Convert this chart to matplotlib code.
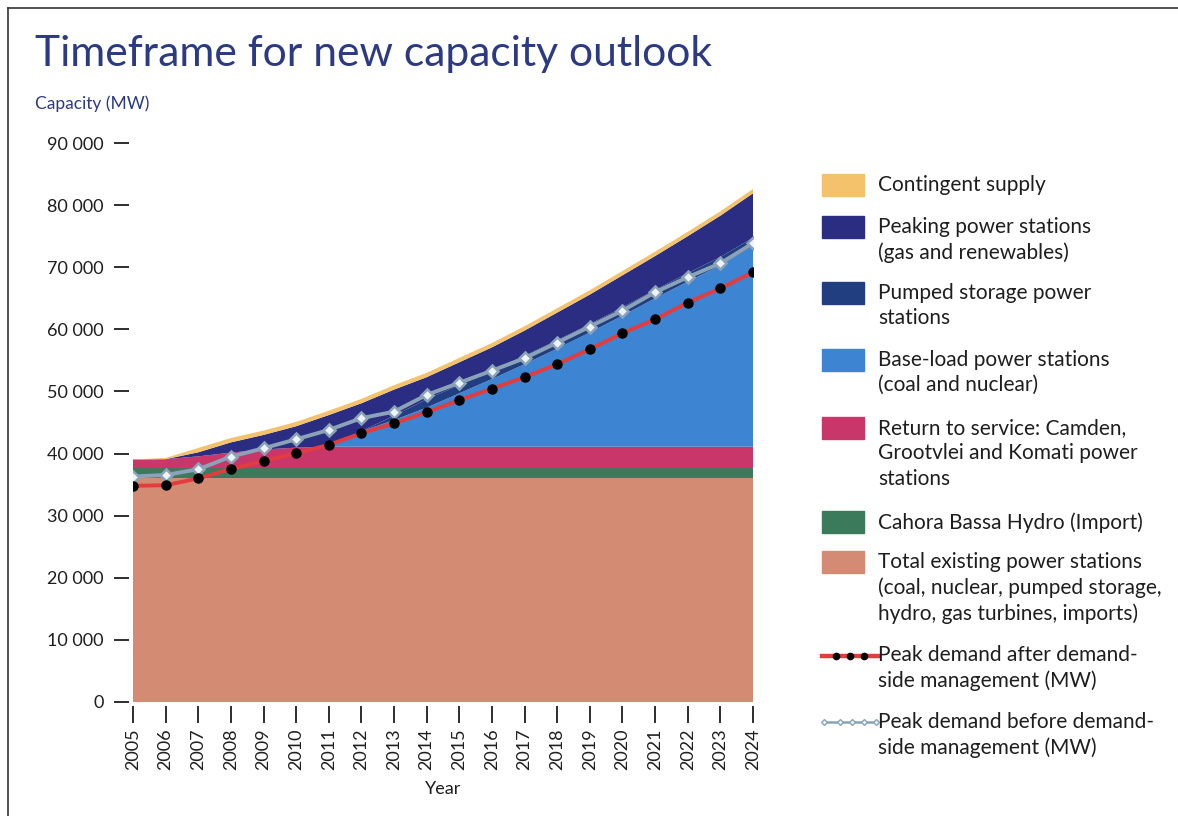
import numpy as np
import matplotlib
matplotlib.use("Agg")
import matplotlib.pyplot as plt
from matplotlib.patches import Rectangle
from matplotlib.lines import Line2D
from matplotlib.ticker import FuncFormatter

plt.rcParams["font.family"] = ["Lato", "DejaVu Sans"]

years = list(range(2005, 2025))

# stacked capacity layers (MW), bottom to top
existing = [36100] * 20
cahora = [1550] * 20
return_to_service = [1400, 1450, 1900, 2500, 3000, 3300, 3450, 3450, 3450, 3450,
                     3450, 3450, 3450, 3450, 3450, 3450, 3450, 3450, 3450, 3450]
base_load = [0, 0, 0, 0, 0, 0, 0, 2500, 4300, 6300,
             8600, 10900, 13300, 15800, 18400, 21100, 23900, 26600, 29200, 32300]
pumped = [0, 0, 0, 0, 0, 0, 0, 0, 700, 1350,
          1350, 1350, 1350, 1350, 1350, 1350, 1350, 1350, 1350, 1350]
peaking = [0, 0, 650, 1650, 2350, 3450, 5100, 4500, 4200, 3550,
           3650, 3750, 4050, 4450, 4750, 5150, 5450, 5950, 6650, 7150]
contingent = [0, 200, 700, 700, 700, 700, 700, 700, 700, 700,
              700, 700, 700, 700, 700, 700, 700, 700, 700, 700]

# peak demand lines (MW)
demand_after = [34800, 34900, 36000, 37500, 38800, 40050, 41400, 43270, 44880, 46650,
                48600, 50450, 52300, 54400, 56800, 59400, 61600, 64300, 66600, 69200]
demand_before = [36300, 36550, 37470, 39500, 40850, 42300, 43800, 45700, 46750, 49440,
                 51400, 53350, 55350, 57860, 60440, 63010, 65970, 68390, 70640, 73860]

layer_labels = [
    "Total existing power stations\n(coal, nuclear, pumped storage,\nhydro, gas turbines, imports)",
    "Cahora Bassa Hydro (Import)",
    "Return to service: Camden,\nGrootvlei and Komati power\nstations",
    "Base-load power stations\n(coal and nuclear)",
    "Pumped storage power\nstations",
    "Peaking power stations\n(gas and renewables)",
    "Contingent supply",
]
layer_colors = ["#d48b74", "#3b7b5c", "#c93669", "#3d84d2", "#213f80", "#2b2d82", "#f4c26a"]
RED = "#e23c3e"
GREY = "#8aa3b8"
NAVY = "#2b3a82"
INK = "#1e1e1e"
LEG_FS = 15

fig = plt.figure(figsize=(11.78, 8.16), dpi=100)
W, H = 1178, 816
ax = fig.add_axes([133 / W, 1 - 702 / H, 620 / W, (702 - 143) / H])

ax.stackplot(years, existing, cahora, return_to_service, base_load, pumped, peaking,
             contingent, colors=layer_colors, linewidth=0)
ax.plot(years, demand_before, color=GREY, lw=2.8, marker="D", ms=6.5,
        mfc="#eef3f7", mec=GREY, mew=1.8, zorder=4)
ax.plot(years, demand_after, color=RED, lw=2.8, marker="o", ms=6.5,
        mfc="black", mec="black", zorder=5)

ax.set_xlim(2005, 2024)
ax.set_ylim(0, 90000)
for s in ax.spines.values():
    s.set_visible(False)
ax.spines["left"].set_position(("outward", 3))
ax.spines["bottom"].set_position(("outward", 3))
ax.set_yticks(np.arange(0, 90001, 10000))
ax.yaxis.set_major_formatter(FuncFormatter(lambda v, p: f"{int(v):,}".replace(",", " ")))
ax.set_xticks(years)
ax.set_xticklabels([str(y) for y in years], rotation=90)
ax.tick_params(axis="y", length=11, width=1.3, color=INK, labelsize=13, pad=7, labelcolor=INK)
ax.tick_params(axis="x", length=12, width=1.3, color=INK, labelsize=13, pad=4, labelcolor=INK)
ax.set_xlabel("Year", fontsize=13, color=INK, labelpad=8)

fig.text(35 / W, 1 - 54 / H, "Timeframe for new capacity outlook", fontsize=30.7,
         color=NAVY, va="center", ha="left")
fig.text(35 / W, 1 - 104 / H, "Capacity (MW)", fontsize=12.5, color=NAVY,
         va="center", ha="left")

# border lines of the original page box
fig.add_artist(Line2D([8 / W, 8 / W], [0, 1 - 8 / H], color="#333333", lw=1.2))
fig.add_artist(Line2D([8 / W, 1], [1 - 8 / H, 1 - 8 / H], color="#333333", lw=1.2))

# legend, drawn by hand
legend_rows = [  # (label index, first-line centre y px)
    (6, 185),
    (5, 227),
    (4, 293),
    (3, 360),
    (2, 428),
    (1, 522),
    (0, 562),
]
for idx, yc in legend_rows:
    fig.add_artist(Rectangle((822 / W, 1 - (yc + 11) / H), 42 / W, 22 / H,
                             transform=fig.transFigure, color=layer_colors[idx]))
    fig.text(878 / W, 1 - (yc - 10) / H, layer_labels[idx], fontsize=LEG_FS, color=INK,
             va="top", ha="left", linespacing=1.33)

fig.add_artist(Line2D([822 / W, 878 / W], [1 - 656 / H] * 2, color=RED, lw=3.2,
                      transform=fig.transFigure))
fig.add_artist(Line2D([836 / W, 850 / W, 864 / W], [1 - 656 / H] * 3, lw=0,
                      marker="o", ms=4.5, mfc="black", mec="black",
                      transform=fig.transFigure))
fig.add_artist(Line2D([824 / W, 840 / W, 852 / W, 864 / W, 876 / W], [1 - 722 / H] * 5,
                      color=GREY, lw=1.8, marker="D", ms=3, mfc="#eef3f7", mec=GREY,
                      transform=fig.transFigure))
fig.text(878 / W, 1 - 645 / H, "Peak demand after demand-\nside management (MW)",
         fontsize=LEG_FS, color=INK, va="top", ha="left", linespacing=1.33)
fig.text(878 / W, 1 - 712 / H, "Peak demand before demand-\nside management (MW)",
         fontsize=LEG_FS, color=INK, va="top", ha="left", linespacing=1.33)

fig.savefig("out.png", dpi=100)
